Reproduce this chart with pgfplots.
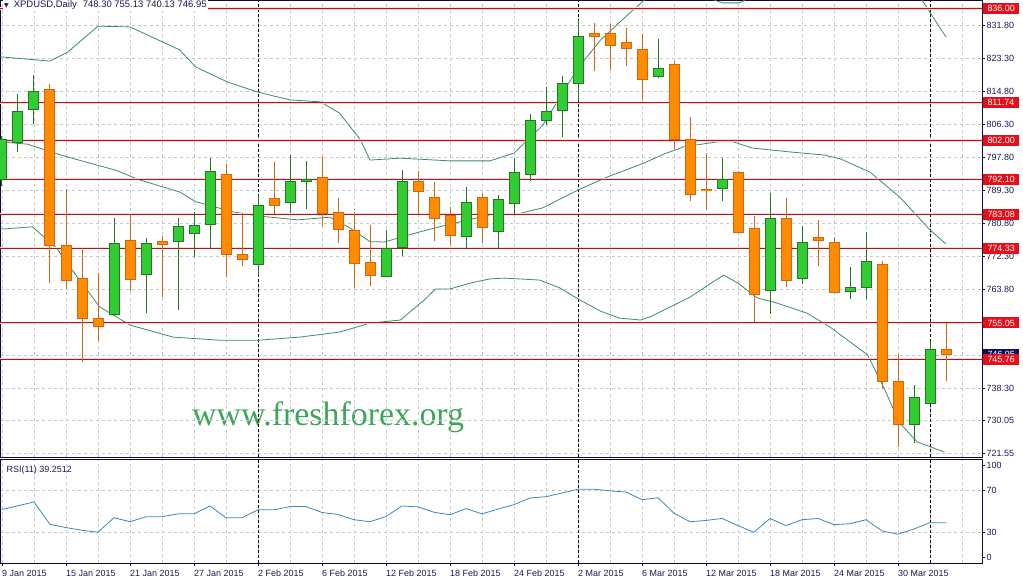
\documentclass[border=0pt]{standalone}
\usepackage{pgfplots}
\usepackage{pgfplotstable}
\pgfplotsset{compat=1.18}
\usepackage{fontspec}
\setmainfont{Liberation Sans}
\newfontfamily\wmfont{Liberation Serif}
\newfontfamily\dejavu{DejaVu Sans}
\definecolor{bullfill}{RGB}{50,205,50}
\definecolor{bulledge}{RGB}{35,120,35}
\definecolor{bearfill}{RGB}{255,140,0}
\definecolor{bearedge}{RGB}{215,100,15}
\definecolor{bbcol}{RGB}{60,140,100}
\definecolor{rsicol}{RGB}{60,135,185}
\definecolor{lvlred}{RGB}{180,20,25}
\definecolor{lvlhalo}{RGB}{252,218,218}
\definecolor{lblred}{RGB}{230,15,25}
\definecolor{navybox}{RGB}{15,15,90}
\definecolor{txtnavy}{RGB}{25,25,85}
\definecolor{gridgray}{RGB}{200,200,200}
\definecolor{wmgreen}{RGB}{60,165,90}
\definecolor{axcol}{RGB}{10,10,50}

\pgfplotstableread{
i o h l c
0 792.1 803.2 790.3 802.4
1 801.5 814.0 799.2 809.6
2 810.1 818.9 806.3 814.7
7 757.3 782.2 756.9 775.6
9 767.6 776.9 757.7 775.6
11 776.1 782.0 758.4 779.9
12 778.1 783.6 772.1 780.2
13 780.5 797.6 774.4 794.1
16 770.2 787.9 766.8 785.4
18 786.1 798.4 783.4 791.5
19 791.4 796.8 784.4 792.0
24 767.1 778.9 767.0 774.1
25 774.4 794.4 772.3 791.5
29 777.4 790.1 774.4 786.1
31 778.6 788.0 774.4 786.9
32 785.9 797.5 783.0 793.9
33 793.3 808.9 791.6 807.3
34 807.3 815.8 806.0 809.6
35 809.8 818.7 803.0 816.8
36 816.8 833.1 812.2 828.9
41 818.6 828.2 818.1 820.6
45 789.7 797.5 786.5 792.0
48 763.3 788.4 757.3 782.0
50 766.5 780.1 765.0 775.8
53 763.2 769.5 761.3 764.1
54 764.2 778.5 761.3 770.9
57 728.9 739.1 724.0 735.9
58 734.3 750.1 734.2 748.3
}\bull

\pgfplotstableread{
i o h l c
3 815.2 816.6 765.3 774.9
4 774.9 789.6 763.9 765.9
5 766.5 774.3 745.1 756.2
6 756.3 768.0 750.4 754.1
8 776.3 783.0 763.4 766.2
10 776.1 777.4 761.8 775.3
14 793.2 796.0 766.8 772.7
15 772.7 783.4 769.8 771.4
17 787.2 796.5 783.2 785.4
20 792.6 798.1 780.0 783.2
21 783.5 787.3 775.7 779.2
22 778.9 783.7 764.0 770.4
23 770.7 780.3 764.6 767.3
26 791.5 794.2 783.1 789.0
27 787.4 791.4 776.2 782.0
28 782.6 784.8 775.1 777.6
30 787.4 788.6 775.7 779.7
37 829.7 832.3 820.0 828.8
38 829.7 832.1 820.2 826.5
39 827.3 831.1 821.3 825.7
40 825.6 829.5 812.5 817.7
42 821.7 822.5 799.9 802.3
43 802.2 808.0 786.5 788.2
44 789.5 798.8 784.5 789.1
46 793.9 794.1 778.2 778.4
47 779.4 782.7 755.4 762.4
49 782.0 787.2 764.4 766.1
51 777.1 781.6 769.6 776.3
52 775.8 777.2 762.7 762.9
55 770.2 770.9 738.0 740.0
56 740.0 747.1 723.2 728.9
59 748.3 755.1 740.1 747.0
}\bear

\pgfplotstableread{
i r
0 51.9
1 55.5
2 59.1
3 37.8
4 34.7
5 32.2
6 30.3
7 44.1
8 40.3
9 45.0
10 45.0
11 47.8
12 47.8
13 55.3
14 44.1
15 44.1
16 51.6
17 51.6
18 54.7
19 54.7
20 49.1
21 47.2
22 42.2
23 40.3
24 45.3
25 55.3
26 54.4
27 49.3
28 46.9
29 52.8
30 47.8
31 52.3
32 56.6
33 62.9
34 64.1
35 67.6
36 71.3
37 71.3
38 69.7
39 68.5
40 61.3
41 63.1
42 48.4
43 40.3
44 41.5
45 43.4
46 36.6
47 30.3
48 43.4
49 36.6
50 42.2
51 43.4
52 37.5
53 38.4
54 42.2
55 31.5
56 28.4
57 33.4
58 39.4
59 39.3
}\rsi

\pgfplotsset{
  wick/.style={only marks, mark=*, mark size=0pt, mark options={draw=none, fill=none}, forget plot,
    error bars/.cd, y dir=plus, y explicit, error mark=none,
    error bar style={line width=1bp, color=#1}},
  body/.style 2 args={only marks, mark=*, mark size=0pt, mark options={draw=none, fill=none}, forget plot,
    error bars/.cd, y dir=plus, y explicit, error mark=none,
    error bar style={line width=#1, color=#2}},
  chartgrid/.style={
    grid=both,
    major grid style={gridgray, dash pattern=on 3bp off 3bp, line width=0.6bp},
    minor grid style={gridgray, dash pattern=on 3bp off 3bp, line width=0.6bp},
    minor xtick={2,6,10,14,18,22,26,30,34,38,42,46,50,54,58,60},
    minor tick length=0pt,
  },
}

\begin{document}
\begin{tikzpicture}
\path[use as bounding box] (0bp,0bp) rectangle (1023bp,583bp);

\node[anchor=base west, inner sep=0pt, text=wmgreen, font=\wmfont\fontsize{34}{34}\selectfont] at (192bp,157bp) {www.freshforex.org};

\begin{axis}[
  at={(0bp,126bp)}, anchor=south west,
  width=982bp, height=457bp, scale only axis,
  xmin=-0.125, xmax=61.25, ymin=720.52, ymax=838.24,
  clip mode=individual,
  axis line style={axcol, line width=0.9bp},
  chartgrid,
  xtick={0,4,...,56}, xticklabels={},
  xtick style={draw=none},
  ytick={721.55,730.05,738.3,746.8,755.3,763.8,772.3,780.8,789.3,797.8,806.3,814.8,823.3,831.8},
  yticklabels={721.55,730.05,738.30,746.80,755.30,763.80,772.30,780.80,789.30,797.80,806.30,814.80,823.30,831.80},
  ytick pos=right, yticklabel pos=right, tick align=outside, major tick length=3bp,
  ytick style={axcol, line width=0.6bp},
  yticklabel style={font=\fontsize{9}{10}\selectfont, text=txtnavy, anchor=west, inner sep=0pt, xshift=1.5bp},
  extra x ticks={16,36,58}, extra x tick labels={},
  extra x tick style={major grid style={black, dash pattern=on 3bp off 2bp, line width=0.8bp}},
]
% Bollinger bands
\addplot[bbcol, line width=0.8bp, forget plot] coordinates {
(-0.1,823.6) (3.0,822.5) (4.1,824.8) (6.0,831.5) (8.0,831.3) (11.1,825.4) (12.1,821.0) (14.1,817.1) (16,814.5) (18,812.5) (19.9,812.0) (21.1,809.1) (22.4,802.2) (23,797.0) (24.9,797.5) (28,796.8) (30.5,796.8) (32,798.8) (33.8,806.0) (36,820.7) (37.4,827.9) (39.1,834.4) (40.5,839.5) (42.4,841.3) (44,839.0) (45,837.5) (46.1,837.5) (47.4,840.3) (49.9,843.4) (53,842.9) (55.5,840.3) (57.5,838.2) (59,828.7)};
\addplot[bbcol, line width=0.8bp, forget plot] coordinates {
(-0.1,801.7) (1.6,801.1) (3.3,798.8) (4.1,797.8) (7.1,794.4) (8.6,791.9) (11.1,788.8) (12.1,786.3) (14.4,783.7) (16,782.6) (18.5,781.6) (20.5,782.3) (21.75,779.5) (23,776.0) (23.9,775.9) (26.1,778.5) (28,780.5) (29.9,782.3) (30.5,782.9) (32,782.9) (33.8,784.7) (36,789.3) (37.8,792.6) (40.1,796.2) (41.4,798.6) (42.6,800.4) (44.7,801.7) (45.7,801.7) (46.9,800.1) (49.25,799.1) (51.4,798.3) (52.4,797.3) (54.25,793.9) (56.1,787.5) (58,779.0) (59,775.4)};
\addplot[bbcol, line width=0.8bp, forget plot] coordinates {
(-0.1,779.2) (1.9,779.8) (3.4,774.4) (4.7,766.9) (6.1,759.2) (8,754.5) (10.7,751.4) (13.6,750.6) (16,750.6) (18.6,751.4) (21.1,752.7) (23,755.0) (24.9,755.8) (26.4,761.0) (27.1,763.8) (28,763.8) (29.25,765.3) (30.5,766.4) (31.4,766.6) (33.6,766.1) (34.9,764.0) (36.1,761.0) (37.4,758.1) (38.6,756.3) (39.9,755.8) (40.5,756.6) (43,761.7) (45.1,767.4) (46,765.3) (47.2,761.5) (48.4,760.2) (50.3,757.6) (51.75,754.0) (54.1,746.8) (55.1,738.5) (56.1,729.3) (57.2,724.4) (58.9,721.8)};
% horizontal levels
\pgfplotsinvokeforeach{836,811.74,802,792.1,783.08,774.33,755.05,745.76}{
  \addplot[lvlhalo, line width=2.6bp, forget plot] coordinates {(-1,#1) (62,#1)};
  \addplot[lvlred, line width=1bp, forget plot] coordinates {(-1,#1) (62,#1)};
}
% candles
\addplot[wick=bulledge] table[x=i, y=l, y error expr=\thisrow{h}-\thisrow{l}] {\bull};
\addplot[wick=bearedge] table[x=i, y=l, y error expr=\thisrow{h}-\thisrow{l}] {\bear};
\addplot[body={11bp}{bulledge}] table[x=i, y expr=\thisrow{o}-0.13, y error expr=\thisrow{c}-\thisrow{o}+0.26] {\bull};
\addplot[body={9bp}{bullfill}] table[x=i, y expr=\thisrow{o}+0.13, y error expr=\thisrow{c}-\thisrow{o}-0.26] {\bull};
\addplot[body={11bp}{bearedge}] table[x=i, y expr=\thisrow{c}-0.13, y error expr=\thisrow{o}-\thisrow{c}+0.26] {\bear};
\addplot[body={9bp}{bearfill}] table[x=i, y expr=\thisrow{c}+0.13, y error expr=\thisrow{o}-\thisrow{c}-0.26] {\bear};
\coordinate (L1) at (axis cs:61.25,836);
\coordinate (L2) at (axis cs:61.25,811.74);
\coordinate (L3) at (axis cs:61.25,802);
\coordinate (L4) at (axis cs:61.25,792.1);
\coordinate (L5) at (axis cs:61.25,783.08);
\coordinate (L6) at (axis cs:61.25,774.33);
\coordinate (L7) at (axis cs:61.25,755.05);
\coordinate (L8) at (axis cs:61.25,745.76);
\coordinate (Lcur) at (axis cs:61.25,746.95);
\end{axis}

\begin{axis}[
  at={(0bp,20bp)}, anchor=south west,
  width=982bp, height=104bp, scale only axis,
  xmin=-0.125, xmax=61.25, ymin=1, ymax=100,
  axis line style={axcol, line width=0.9bp},
  chartgrid,
  xtick={0,4,...,56},
  xticklabels={9 Jan 2015,15 Jan 2015,21 Jan 2015,27 Jan 2015,2 Feb 2015,6 Feb 2015,12 Feb 2015,18 Feb 2015,24 Feb 2015,2 Mar 2015,6 Mar 2015,12 Mar 2015,18 Mar 2015,24 Mar 2015,30 Mar 2015},
  xtick pos=bottom, ytick pos=right, yticklabel pos=right,
  tick align=outside, major tick length=3bp,
  tick style={axcol, line width=0.6bp},
  xticklabel style={font=\fontsize{9}{10}\selectfont, text=txtnavy, anchor=north west, inner sep=0pt, yshift=-4bp},
  ytick={30,70}, yticklabels={30,70},
  yticklabel style={font=\fontsize{9}{10}\selectfont, text=txtnavy, anchor=west, inner sep=0pt, xshift=1.5bp},
  extra y ticks={6.4,93.6}, extra y tick labels={0,100},
  extra y tick style={grid=none},
  extra x ticks={16,36,58}, extra x tick labels={},
  extra x tick style={major grid style={black, dash pattern=on 3bp off 2bp, line width=0.8bp}, major tick length=0pt},
]
\addplot[rsicol, line width=0.8bp, forget plot] table[x=i, y=r] {\rsi};
\end{axis}

% header and labels
\node[anchor=west, fill=white, inner sep=1bp, text=txtnavy, font=\fontsize{9.5}{10}\selectfont] at (3bp,577.5bp) {{\dejavu\fontsize{6}{6}\selectfont ▼}\hspace{5bp}XPDUSD,Daily\hspace{6bp}748.30 755.13 740.13 746.95};
\node[anchor=base west, inner sep=0pt, text=txtnavy, font=\fontsize{9}{10}\selectfont] at (6.5bp,110.5bp) {RSI(11) 39.2512};

\tikzset{lbl/.style={anchor=west, fill=lblred, text=white, inner xsep=4.5bp, inner ysep=1.3bp, minimum height=11bp, font=\fontsize{9}{10}\selectfont, xshift=0.8bp}}
\node[lbl] at (L1) {836.00};
\node[lbl] at (L2) {811.74};
\node[lbl] at (L3) {802.00};
\node[lbl] at (L4) {792.10};
\node[lbl] at (L5) {783.08};
\node[lbl] at (L6) {774.33};
\node[lbl] at (L7) {755.05};
\node[lbl, fill=navybox] at (Lcur) {746.95};
\node[lbl] at (L8) {745.76};
\end{tikzpicture}
\end{document}
